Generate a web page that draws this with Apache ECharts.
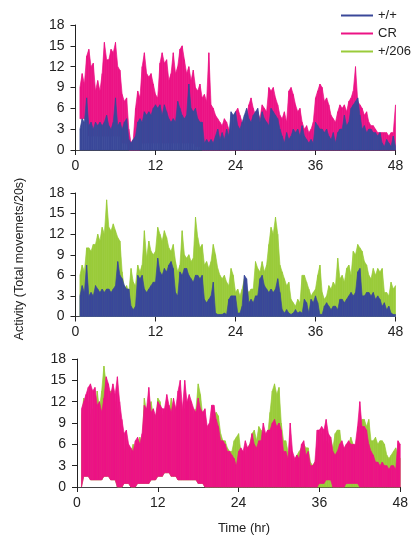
<!DOCTYPE html>
<html>
<head>
<meta charset="utf-8">
<script src="https://cdn.jsdelivr.net/npm/echarts@6/dist/echarts.min.js"></script>
<style>
html,body{margin:0;padding:0;background:#fff;}
#chart{width:411px;height:538px;}
</style>
</head>
<body>
<div id="chart"></div>
<script>
// Time step between readings (hours) and axis ticks
const stepHours = 1/3;
const xTicks = [0, 12, 24, 36, 48];
const yTicks = [0, 3, 6, 9, 12, 15, 18];
const legendNames = ['+/+', 'CR', '+/206'];
const xTitle = 'Time (hr)';
const yTitle = 'Activity (Total movemets/20s)';

// Panel 1: CR (pink) and +/+ (blue) peak values, one every 20 min from t=0 to 48
const p1CR = [null,null,9, 11,9.5,13.5, 14.5,12,12.5, 8.5,10,8.5, 11,15.5,13, 13,14.5,14, 15.5,12,11.5, 8,7,7.5,
  3,1,1.5, 6,8.5,7.5, 12,14,11, 10.5,11,9.5, 8,7.5,12.5, 14,12.5,13, 10,11,14, 11,12,14.5,
  15,13,11, 12,10,11.5, 9,8.5,9.5, 7.5,8,7, 14,6.5,6, 5,4.5,4, 3.5,4.5,4, 3,2.5,3.5,
  5.5,6,5, 4,3.5,5, 6.5,7.5,6, 5,5.5,4.5, 6.5,6,5.5, 9,8.5,9, 7.5,6.5,5, 4.5,5.5,4,
  8.5,9,8, 6.5,5.5,6, 4,3,3.5, 2.5,3,4, 7.5,8.5,9.5, 9,7,7.5, 6.5,5,4.5, 4,5.5,6.5,
  6,6.5,5.5, 7,7.5,8.5, 12,7,6.5, 6,5,5.5, 4,3.5,3.5, 3,2.5,2.5, 2.5,2.5,2.5, 2,2.5,2.5, 6.5];
const p1WT = [null,null,3, 4.5,4,7.5, 3.5,4,3, 4,3.5,4, 3.5,4,5, 3.5,3,4, 7.5,3.5,4, 3,4,4.5,
  1.5,1,1.5, 2,4,4.5, 4,5.5,5, 5.5,5,6, 6.5,6,6.5, 5,6.5,5.5, 4.5,4,4.5, 4,7,6,
  5,4.5,5, 9.5,6,5.5, 6,4.5,4, 4,1,1.5, 1,1.5,1, 2,3,1.5, 2.5,1.5,3, 2,5.5,5,
  5.5,3.5,3, 4,5,6, 4.5,4,5, 5.5,6,4, 5.5,4.5,4, 3.5,6,5.5, 5,4.5,3, 2,1,2.5,
  1.5,2,3, 2.5,3,2, 3.5,2,1.5, 1,1.5,1, 4,3.5,3, 3,2.5,3, 2,1.5,2.5, 1,2.5,3,
  3,5,3.5, 4,6,6.5, 7,7.5,5, 3,3.5,2.5, 3,3,2.5, 2.5,2,2.5, 1,0.5,1.5, 1,0.5,2, 0.5];
// lowest level reached within each hour (t = 0..48)
const p1CRLow = [4.5,4.5,2,2,2,2,2,1,0,0,1,1,1,1,1,1,1,1,0.5,0,0,0,0,0,0,0,0,0,0,0,0,0,0,0,0,0,0,0,0,0,0,0,0,0,0,0,0,0,0];

// Panel 2: +/206 (green) and +/+ (blue)
const p2Mut = [null,null,6, 7.5,6.5,10, 10,9.5,10.5, 10.5,12,11, 13,12,17, 13,12.5,13.5, 12.5,11.5,11, 6.5,4,4.5,
  3.5,7,5, 4.5,7.5,6.5, 7.5,12.5,8.5, 11,9.5,9, 9.5,13,12, 11,12.5,11.5, 10,9.5,10.5, 8,6.5,7.5,
  12.5,9,8.5, 9,8,8.5, 14.5,11.5,10, 10.5,7.5,8, 7,8,10.5, 9,7,6, 5.5,6,5, 4.5,7,6,
  3.5,4,3, 4,5.5,4, 3.5,4,4, 8,7,6.5, 8,6.5,7.5, 10.5,13,12, 14.5,12,7.5, 6.5,5.5,4.5,
  5,2.5,2, 1.5,2.5,2, 6,6,5, 4,3,3.5, 4,6,7.5, 3.5,2.5,3, 4.5,4,5, 4.5,8.5,5.5,
  6,5,7, 7.5,6,9.5, 9,10.5,10, 9.5,8,7.5, 6,5.5,7, 6,7,6.5, 7,3.5,3.5, 3,5,4, 4.5];
const p2WT = [null,null,3, 4.5,3.5,7.5, 3,3.5,3, 4.5,4,3.5, 4,3.5,4, 4,3.5,4, 4.5,8,6, 5.5,4.5,4,
  4,1.5,1, 1.5,6,5.5, 6,4,3.5, 4,4.5,5, 5,8.5,6.5, 6,7,6.5, 7.5,8,7, 3.5,3,6.5,
  6,7,7, 6,5.5,5, 6,6,5.5, 6,2.5,2, 2.5,3,5, 0.5,0.3,0.3, 0.3,0.5,0.3, 2.5,3,3,
  3,0.5,0.5, 1.5,6,5.5, 2,2.5,2, 3,3,5.5, 6,4.5,4, 3.5,4,3.5, 4,5.5,3.5, 1,0.5,1,
  0.5,0.3,0.5, 1,0.5,0.7, 0.5,2.5,2, 0.5,2.5,2, 3,2,0.3, 0.3,1.5,2, 1.5,1,1.5, 1.5,1,2.5,
  2.5,2,2.5, 3,3.5,3, 3.5,6.5,7, 3,3,3.5, 3.5,3,3.5, 2.5,3,2.5, 1.5,2,1, 1.5,0.5,0.3, 0.3];

// Panel 3: +/206 (green) and CR (pink)
const p3Mut = [null,null,10, 12.5,11,12, 10,11,9, 13.5,11,13.5, 17,14.5,12, 13.5,13.5,12, 11,10,7, 5,6,5.5,
  4.5,6,5.5, 6,7,6, 12.5,10.5,11, 12,10,9, 12.5,12,10, 10.5,12,10, 12.5,10,11, 11,12,10.5,
  11,11.5,12, 11.5,10,11, 14.5,13,10, 10,8,8.5, 9.5,10,10.5, 10,7.5,6.5, 6.5,5.5,5, 5,6.5,7,
  7.5,5,5, 4.5,5.5,6, 7.5,8,6.5, 8.5,8,7.5, 7,7.5,10.5, 13.5,14.5,13, 14,9,6.5, 6.5,5,4.5,
  4,3.5,4.5, 5,5.5,6, 5.5,5.5,3.5, 3,3.5,5, 7,7.5,6, 6.5,6,7, 5.5,7.5,8, 8,5.5,5,
  6,6,7, 6,5.5,7.5, 9,9.5,9.5, 8.5,9.5,6.5, 6.5,7,6, 6.5,6.5,6, 4.5,4,4.5, 5,5.5,4.5, 4];
const p3CR = [null,null,11, 12,13,14, 14.5,13.5,14, 11.5,12,10.5, 12.5,15.5,14.5, 13,14.5,13, 15.5,12,9.5, 7.5,8,6,
  5.5,5,6.5, 7,6,7.5, 11.5,11,14, 10.5,11,10, 12,11.5,11, 11,13,11.5, 10.5,12.5,11, 13.5,15,11,
  15,12,13, 12,11,10.5, 12.5,11,10.5, 11,8.5,9, 11.5,11.5,9.5, 8.5,6.5,6.5, 6,5,5, 4.5,4,3,
  5,5.5,5, 6.5,5.5,6, 7.5,6,5.5, 6.5,6.5,9, 7.5,8,8, 9,9.5,8.5, 9,8,5, 5,4,9,
  5,4,4.5, 4,6,6.5, 4.5,5,3, 3,3.5,8, 8,8.5,8, 9.5,7.5,7, 5,4.5,5, 6,6.5,5.5,
  6,6.5,6, 6,6,8.5, 12,8.5,8.5, 8,6,5, 4.5,3.5,3.5, 3,3.5,3, 3,2.5,3, 3,2.5,6.5, 6];
const p3CRLow = [0,1.5,1,1,1.5,1,0,0.5,0,0.5,0.5,1,1.5,2,1.5,1,1,1,0.5,0,0,0,0,0,0,0,0,0,0,0,0,0,0,0,0,0,0.5,1,0,0,0.5,0.5,0,0,0,0,0,0,0];
const p3MutLow = [0,1.5,1,1,1.5,1,0,0.5,0,0.5,0.5,1,1.5,2,1.5,1,1,1,0.5,0,0,0,0,0,0,0,0,0,0,0,0,0,0,0,0,0,0,0,0,0,0,0,0,0,0,0,0,0,0];

const COLORS = { wt: '#3a4899', cr: '#ec1385', mut: '#9acb3a' };
const FONT = "'Liberation Sans', Arial, sans-serif";

// Filled band between the hourly low and the 20-min peaks, drawn via the axis scales
function band(name, color, idx, hi, lo) {
  const pts = [];
  for (let i = 0; i < hi.length; i++) {
    if (hi[i] == null) continue;
    const t = i * stepHours;
    let l = lo ? lo[Math.floor(t + 1e-9)] : 0;
    pts.push([t, hi[i], Math.min(l, hi[i])]);
  }
  return {
    type: 'custom', name: name, xAxisIndex: idx, yAxisIndex: idx,
    data: pts, encode: { x: 0, y: [1, 2] },
    itemStyle: { color: color },
    renderItem: function (params, api) {
      const i = params.dataIndex;
      if (i >= pts.length - 1) return null;
      const a = pts[i], b = pts[i + 1];
      const poly = [
        api.coord([a[0], a[1]]), api.coord([b[0], b[1]]),
        api.coord([b[0], b[2]]), api.coord([a[0], a[2]])
      ];
      return {
        type: 'polygon', shape: { points: poly },
        style: { fill: color, stroke: color, lineWidth: 0.7 }
      };
    },
    animation: false, silent: true
  };
}

const grids = [
  { left: 75.5, top: 25, width: 320, height: 125 },
  { left: 75.5, top: 193, width: 320, height: 123.5 },
  { left: 77, top: 359, width: 327, height: 128 }
];

function xAxis(i) {
  return {
    type: 'value', gridIndex: i, min: xTicks[0], max: xTicks[xTicks.length - 1], interval: 12,
    axisLine: { show: true, lineStyle: { color: '#444', width: 1 } },
    axisTick: { show: true, length: 5, lineStyle: { color: '#222' } },
    axisLabel: { fontSize: 14, color: '#222', margin: 9, fontFamily: FONT },
    splitLine: { show: false }
  };
}
function yAxis(i) {
  return {
    type: 'value', gridIndex: i, min: yTicks[0], max: yTicks[yTicks.length - 1], interval: 3,
    axisLine: { show: true, lineStyle: { color: '#222', width: 1 } },
    axisTick: { show: true, length: 5, lineStyle: { color: '#222' } },
    axisLabel: { fontSize: 14, color: '#222', margin: 11, fontFamily: FONT },
    splitLine: { show: false }
  };
}

const chart = echarts.init(document.getElementById('chart'), null, { renderer: 'canvas' });
chart.setOption({
  backgroundColor: '#fff',
  animation: false,
  grid: grids,
  xAxis: [xAxis(0), xAxis(1), xAxis(2)],
  yAxis: [yAxis(0), yAxis(1), yAxis(2)],
  legend: {
    data: legendNames, orient: 'vertical', left: 336, top: 4,
    icon: 'rect', itemWidth: 32, itemHeight: 2, itemGap: 5,
    textStyle: { fontSize: 13, color: '#222', fontFamily: FONT, lineHeight: 13 }
  },
  graphic: [
    { type: 'text', x: 20, y: 259, rotation: Math.PI / 2, silent: true,
      style: { text: yTitle, fontSize: 12.5, fontFamily: FONT, fill: '#222', textAlign: 'center', textVerticalAlign: 'middle' } },
    { type: 'text', x: 244, y: 528, silent: true,
      style: { text: xTitle, fontSize: 13, fontFamily: FONT, fill: '#222', textAlign: 'center', textVerticalAlign: 'middle' } }
  ],
  series: [
    band('CR', COLORS.cr, 0, p1CR, p1CRLow),
    band('+/+', COLORS.wt, 0, p1WT, null),
    band('+/206', COLORS.mut, 1, p2Mut, null),
    band('+/+', COLORS.wt, 1, p2WT, null),
    band('+/206', COLORS.mut, 2, p3Mut, p3MutLow),
    band('CR', COLORS.cr, 2, p3CR, p3CRLow)
  ]
});
</script>
</body>
</html>
